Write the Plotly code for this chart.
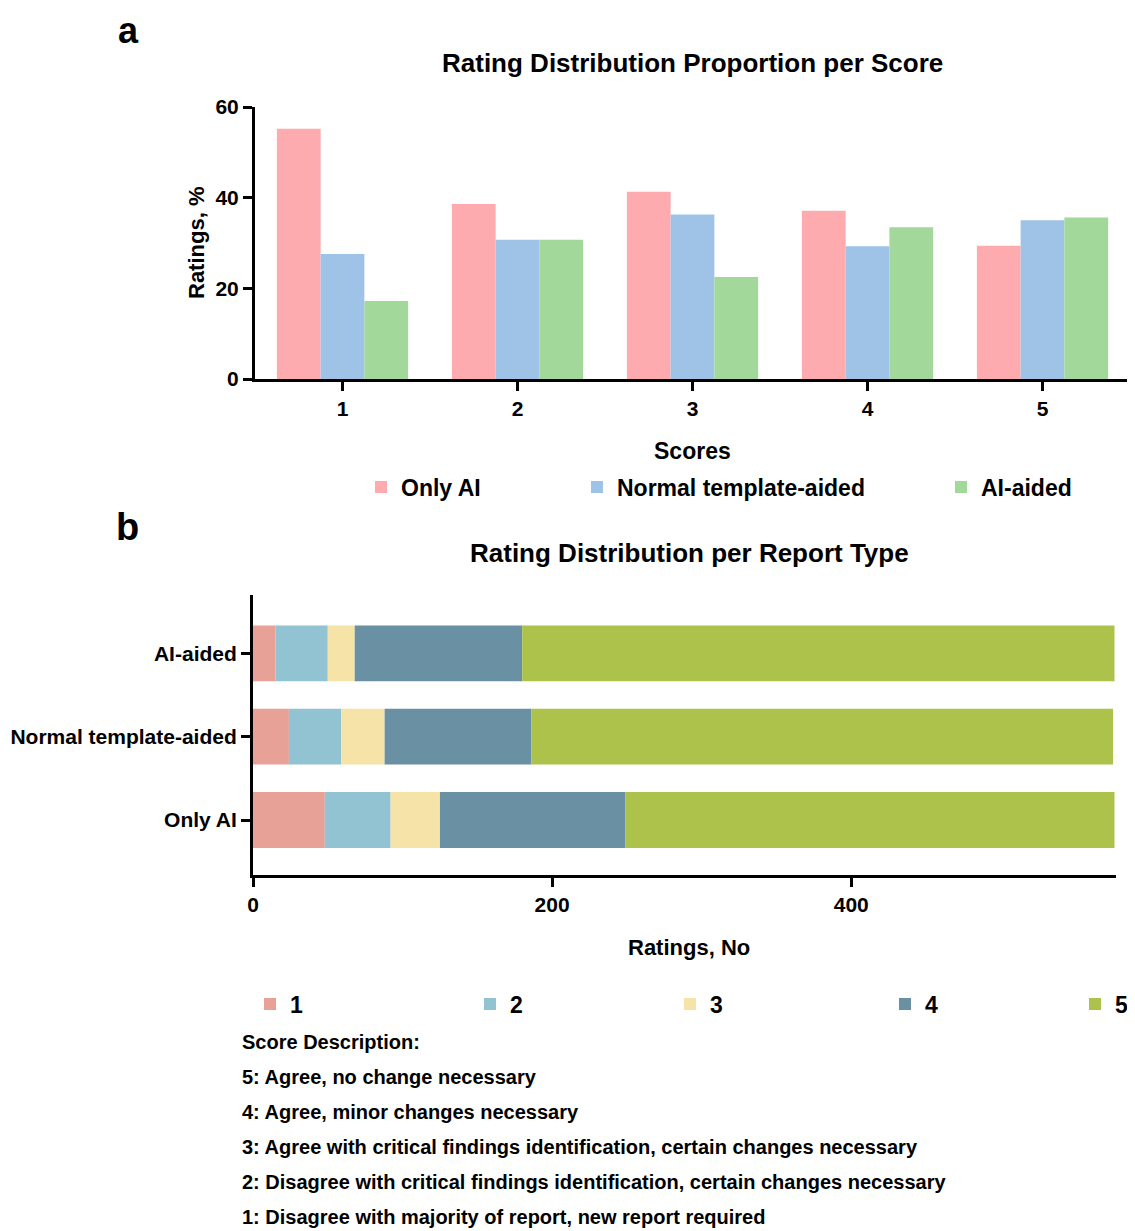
import plotly.graph_objects as go

# page body adds an 8px margin; figure is sized so the picture fills the window
OFF = 8
W, H = 1135 - OFF, 1231 - OFF

# ---- Panel a data: percentage of ratings per score ----
scores = ["1", "2", "3", "4", "5"]
score_pos = [1, 2, 3, 4, 5]
pct_only_ai = [55.2, 38.6, 41.3, 37.1, 29.4]
pct_normal = [27.6, 30.7, 36.3, 29.3, 35.0]
pct_ai_aided = [17.2, 30.7, 22.5, 33.5, 35.6]
series_a_names = ["Only AI", "Normal template-aided", "AI-aided"]
series_a_colors = ["#FDABAE", "#9FC3E6", "#A2D89A"]

# ---- Panel b data: number of ratings per report type ----
report_types = ["Only AI", "Normal template-aided", "AI-aided"]
count_score1 = [48, 24, 15]
count_score2 = [44, 35, 35]
count_score3 = [33, 29, 18]
count_score4 = [124, 98, 112]
count_score5 = [327, 389, 396]
score_colors = ["#E8A197", "#92C3D3", "#F6E3A8", "#6A90A3", "#ACC24B"]

descriptions = [
    "Score Description:",
    "5: Agree, no change necessary",
    "4: Agree, minor changes necessary",
    "3: Agree with critical findings identification, certain changes necessary",
    "2: Disagree with critical findings identification, certain changes necessary",
    "1: Disagree with majority of report, new report required",
]

FONT = "Liberation Sans, Arial, sans-serif"


def px_x(x):
    return (x - OFF) / W


def px_y(y):
    return 1 - (y - OFF) / H


fig = go.Figure()

# Panel a: grouped bars
a_values = [pct_only_ai, pct_normal, pct_ai_aided]
for i, (name, vals, col) in enumerate(zip(series_a_names, a_values, series_a_colors)):
    fig.add_trace(go.Bar(
        x=score_pos, y=vals, name=name, marker=dict(color=col, line=dict(width=0)),
        xaxis="x", yaxis="y", legend="legend" if i == 0 else f"legend{i + 1}",
    ))

# Panel b: stacked horizontal bars (stacked via cumulative base)
b_values = [count_score1, count_score2, count_score3, count_score4, count_score5]
cum = [0, 0, 0]
for i, (vals, col) in enumerate(zip(b_values, score_colors)):
    fig.add_trace(go.Bar(
        y=report_types, x=vals, base=list(cum), orientation="h", name=scores[i],
        marker=dict(color=col, line=dict(width=0)), offsetgroup="stack", width=0.67,
        xaxis="x2", yaxis="y2", legend=f"legend{i + 4}",
    ))
    cum = [c + v for c, v in zip(cum, vals)]

axis_common = dict(
    showline=True, linecolor="black", linewidth=3,
    ticks="outside", ticklen=9, tickwidth=3, tickcolor="black",
    showgrid=False, zeroline=False,
    tickfont=dict(family=FONT, size=21, color="black", weight="bold"),
)

layout = dict(
    width=W, height=H,
    margin=dict(l=0, r=0, t=0, b=0, autoexpand=False),
    paper_bgcolor="white", plot_bgcolor="white",
    barmode="group", bargap=0.25, bargroupgap=0,
    font=dict(family=FONT, color="black"),
    xaxis=dict(domain=[px_x(255), px_x(1130)], range=[0.5, 5.5], anchor="y",
               tickvals=score_pos, ticktext=scores, **axis_common),
    yaxis=dict(domain=[px_y(379), px_y(107)], range=[0, 60], anchor="x",
               tickvals=[0, 20, 40, 60], **axis_common),
    xaxis2=dict(domain=[px_x(253), px_x(1116)], range=[0, 577], anchor="y2",
                tickvals=[0, 200, 400], **axis_common),
    yaxis2=dict(domain=[px_y(875), px_y(595)], range=[-0.66, 2.70], anchor="x2",
                type="category", categoryorder="array", categoryarray=report_types,
                **axis_common),
    showlegend=True,
)
fig.update_layout(**layout)

legend_font = dict(family=FONT, size=23, color="black", weight="bold")
legend_defs = {}
a_legend_x = [361, 577, 941]
for i, lx in enumerate(a_legend_x):
    key = "legend" if i == 0 else f"legend{i + 1}"
    legend_defs[key] = dict(x=px_x(lx), y=px_y(487), xanchor="left", yanchor="middle",
                            orientation="h", font=legend_font, bgcolor="rgba(0,0,0,0)")
b_legend_x = [250, 470, 670, 885, 1075]
for i, lx in enumerate(b_legend_x):
    legend_defs[f"legend{i + 4}"] = dict(x=px_x(lx), y=px_y(1004), xanchor="left", yanchor="middle",
                                         orientation="h", font=legend_font, bgcolor="rgba(0,0,0,0)")
fig.update_layout(**legend_defs)

ann = []


def add_text(text, x, y, size, xanchor="center", yanchor="middle", angle=0):
    ann.append(dict(text=text, x=px_x(x), y=px_y(y), xref="paper", yref="paper",
                    xanchor=xanchor, yanchor=yanchor, showarrow=False, textangle=angle,
                    font=dict(family=FONT, size=size, color="black", weight="bold")))


add_text("a", 128, OFF, 36, yanchor="top")
add_text("b", 127, 527, 38)
add_text("Rating Distribution Proportion per Score", 692, 63, 26)
add_text("Rating Distribution per Report Type", 689, 553, 26)
add_text("Scores", 692, 451, 23)
add_text("Ratings, No", 689, 947, 22)
add_text("Ratings, %", 197, 243, 22, angle=-90)
for k, line in enumerate(descriptions):
    add_text(line, 240, 1042 + 35 * k, 20, xanchor="left")

fig.update_layout(annotations=ann)

fig.write_html("out.html")
